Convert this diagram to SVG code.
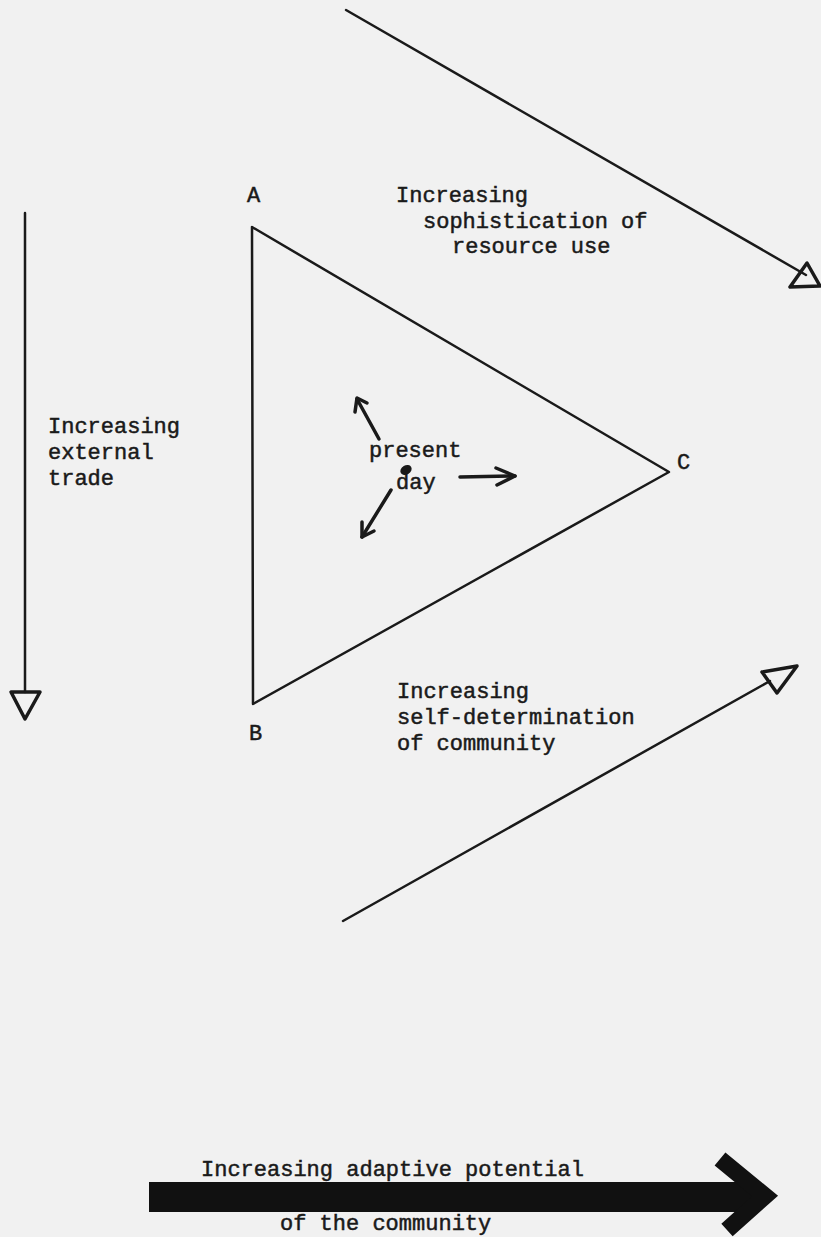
<svg xmlns="http://www.w3.org/2000/svg" width="821" height="1237" viewBox="0 0 821 1237">
<style>
.t{font-family:"Liberation Mono","DejaVu Sans Mono",monospace;font-size:22px;fill:#1a1a1a;stroke:#1a1a1a;stroke-width:0.5}
.ln{stroke:#1a1a1a;stroke-width:2.5;fill:none;stroke-linecap:round;stroke-linejoin:round}
.hd{stroke:#1a1a1a;stroke-width:3.5;fill:none;stroke-linejoin:round}
.sm{stroke:#1a1a1a;stroke-width:3.5;fill:none;stroke-linecap:round;stroke-linejoin:round}
</style>
<rect width="821" height="1237" fill="#f1f1f1"/>
<g id="triangle">
<polygon class="ln" points="252,227 253,704 669,472" stroke-width="3"/>
<text class="t" x="247" y="202">A</text>
<text class="t" x="249" y="740">B</text>
<text class="t" x="677" y="469">C</text>
</g>
<g id="present-day">
<ellipse cx="406" cy="470" rx="6" ry="4.5" transform="rotate(-30 406 470)" fill="#1a1a1a"/>
<text class="t" x="369" y="457">present</text>
<text class="t" x="396" y="489">day</text>
</g>
<g id="label-top"><text class="t" x="396" y="202">Increasing</text><text class="t" x="423" y="228">sophistication of</text><text class="t" x="452" y="253">resource use</text></g>
<g id="label-left"><text class="t" x="48" y="433">Increasing</text><text class="t" x="48" y="459">external</text><text class="t" x="48" y="485">trade</text></g>
<g id="label-bottom"><text class="t" x="397" y="698">Increasing</text><text class="t" x="397" y="724">self-determination</text><text class="t" x="397" y="750">of community</text></g>
<g id="label-adaptive"><text class="t" x="201" y="1176">Increasing adaptive potential</text><text class="t" x="280" y="1230">of the community</text></g>
<g id="connectors">
<line class="ln" x1="346" y1="10" x2="806" y2="275"/>
<polygon class="hd" points="807,263 790,287 820,286"/>
<line class="ln" x1="25" y1="213" x2="25" y2="692"/>
<polygon class="hd" points="11,692 40,692 25,719"/>
<line class="ln" x1="343" y1="921" x2="770" y2="681"/>
<polygon class="hd" points="762,672 797,666 777,693"/>
<line class="sm" x1="379" y1="439" x2="357" y2="399"/>
<polyline class="sm" points="355,412 357,398 367,403"/>
<line class="sm" x1="460" y1="477" x2="515" y2="476"/>
<polyline class="sm" points="496,468 515,476 497,485"/>
<line class="sm" x1="391" y1="490" x2="362" y2="537"/>
<polyline class="sm" points="362,522 362,537 374,531"/>
<rect x="149" y="1182" width="605" height="30" fill="#111"/>
<polyline points="720,1159 765,1196 727,1230" fill="none" stroke="#111" stroke-width="17" stroke-linejoin="miter"/>
</g>
</svg>
